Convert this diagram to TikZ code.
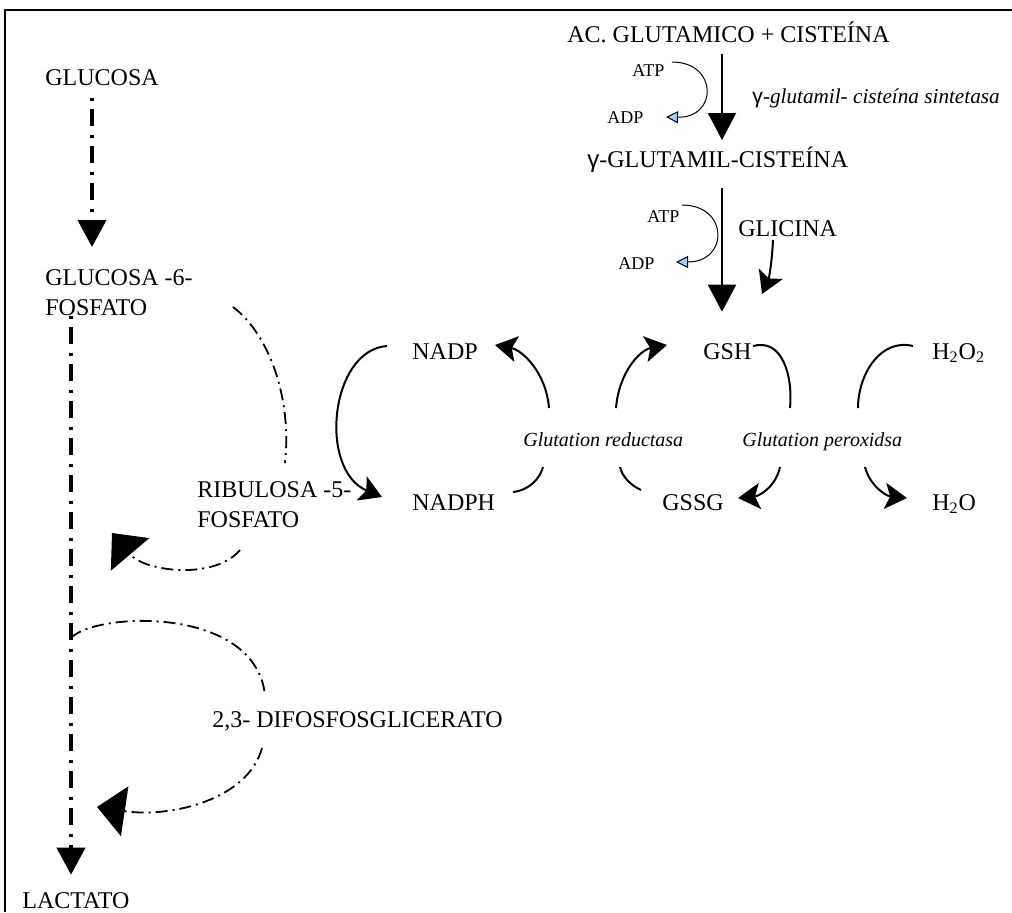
\documentclass[tikz,border=0pt]{standalone}
\usepackage{fontspec}
\setmainfont{Liberation Serif}
\newfontfamily\gsans{Liberation Sans}
\usetikzlibrary{arrows.meta}
\definecolor{azulP}{RGB}{153,204,255}
\tikzset{
  lbl/.style={inner sep=0pt, anchor=base west, font=\fontsize{12}{15}\selectfont},
  enz/.style={lbl, font=\fontsize{10}{12}\selectfont\itshape},
  peq/.style={lbl, font=\fontsize{9}{10}\selectfont},
  marco/.style={line width=1pt},
  via/.style={line width=2pt, dash pattern=on 1.5pt off 4pt on 8.5pt off 4.5pt},
  rama/.style={line width=0.9pt, dash pattern=on 6pt off 2.5pt on 1pt off 2.5pt},
  flecha/.style={line width=1pt},
  fina/.style={line width=0.5pt},
  gran/.style={-{Triangle[length=13.5pt,width=14pt]}},
  curva/.style={-{Triangle[length=14pt,width=25pt]}},
  med/.style={-{Stealth[length=11pt,width=13pt,inset=2.5pt]}},
  azul/.style={-{Triangle[length=6pt,width=6pt,fill=azulP]}},
}
\begin{document}
\begin{tikzpicture}[x=0.5pt,y=-0.5pt]
\useasboundingbox (0,0) rectangle (1012,912);
\draw[marco] (5,912) |- (1012,10);

% glucolisis y derivaciones
\node[lbl] (glc) at (45,85) {GLUCOSA};
\node[lbl, anchor=north west, align=left] (g6p) at (45,269) {GLUCOSA -6-\\FOSFATO};
\node[lbl, anchor=north west, align=left] (ru5p) at (197,481) {RIBULOSA -5-\\FOSFATO};
\node[lbl] (dpg) at (212,727) {2,3- DIFOSFOSGLICERATO};
\node[lbl] (lac) at (22,908) {LACTATO};

% sintesis del glutation
\node[lbl] (acg) at (567,42) {AC. GLUTAMICO + CISTEÍNA};
\node[peq] (atp1) at (632,76) {ATP};
\node[peq] (adp1) at (607,123) {ADP};
\node[enz, font=\fontsize{10.6}{12}\selectfont\itshape] (sint) at (752,103) {{\gsans\upshape γ}-glutamil- cisteína sintetasa};
\node[lbl] (gglc) at (587,167) {{\gsans γ}-GLUTAMIL-CISTEÍNA};
\node[peq] (atp2) at (647,222) {ATP};
\node[peq] (adp2) at (618,269) {ADP};
\node[lbl] (gli) at (738,236) {GLICINA};

% ciclo redox
\node[lbl] (nadp) at (412,359) {NADP};
\node[lbl] (nadph) at (412,510) {NADPH};
\node[lbl] (gsh) at (703,359) {GSH};
\node[lbl] (gssg) at (662,510) {GSSG};
\node[lbl] (hoo) at (932,359) {H\textsubscript{2}O\textsubscript{2}};
\node[lbl] (ho) at (932,510) {H\textsubscript{2}O};
\node[enz] (gr) at (523,446) {Glutation reductasa};
\node[enz] (gpx) at (742,446) {Glutation peroxidsa};

\coordinate (ejeG) at (92,0);
\coordinate (ejeL) at (71,0);
\coordinate (ejeR) at (722,0);

\draw[via, gran, shorten <=6pt, shorten >=11pt] (glc.south -| ejeG) -- (g6p.north -| ejeG);
\draw[via, gran, shorten >=8.5pt] (g6p.south -| ejeL) -- (lac.north -| ejeL);
\draw[rama] (233,307) .. controls (270,335) and (292,400) .. (285,463);
\draw[rama, curva] (240,550) .. controls (215,580) and (145,572) .. (112,533);
\draw[rama] (71,638) .. controls (95,612) and (255,605) .. (265,695);
\draw[rama, curva] (262,748) .. controls (248,800) and (170,818) .. (97,807);

\draw[flecha, gran, shorten <=5.5pt, shorten >=3pt] (acg.south -| ejeR) -- (gglc.north -| ejeR);
\draw[flecha, gran, shorten <=8pt, shorten >=15.5pt] (gglc.south -| ejeR) -- (gsh.north -| ejeR);
\draw[fina, azul] (672,62) .. controls (718,62) and (718,118) .. (666,117);
\draw[fina, azul] (682,205) .. controls (729,205) and (729,262) .. (676,262);
\draw[flecha, med] (773,240) .. controls (772,262) and (769,278) .. (762,294);

\draw[flecha, med] (387,346) .. controls (330,350) and (318,470) .. (382,497);
\draw[flecha] (513,492) .. controls (530,490) and (540,478) .. (543,467);
\draw[flecha, med] (549,408) .. controls (546,372) and (522,350) .. (495,345);
\draw[flecha] (641,490) .. controls (630,485) and (622,476) .. (620,467);
\draw[flecha, med] (616,408) .. controls (619,372) and (640,350) .. (667,345);
\draw[flecha] (753,346) .. controls (782,338) and (793,375) .. (790,408);
\draw[flecha, med] (780,467) .. controls (776,486) and (760,496) .. (738,498);
\draw[flecha] (913,346) .. controls (880,338) and (858,375) .. (858,408);
\draw[flecha, med] (865,467) .. controls (870,486) and (886,496) .. (907,498);
\end{tikzpicture}
\end{document}
